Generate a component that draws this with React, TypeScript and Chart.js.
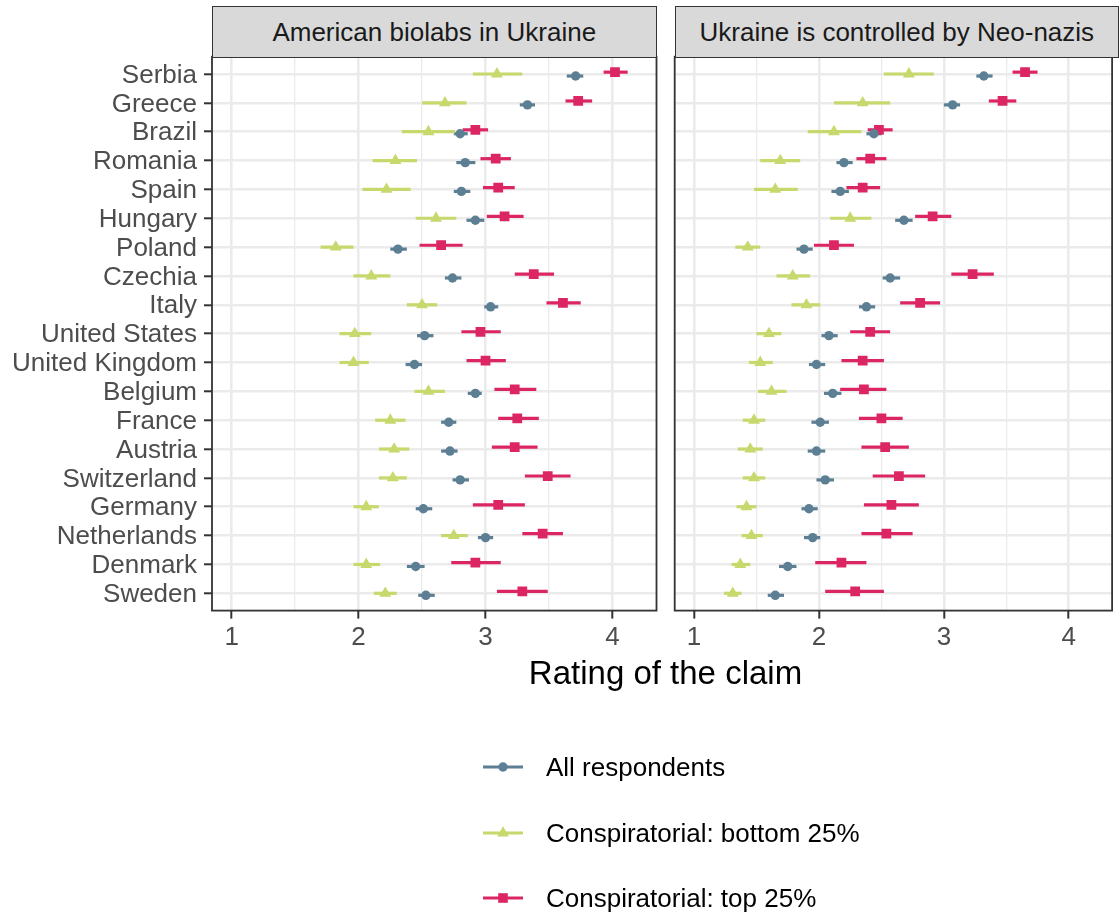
import React, { useEffect, useRef } from "react";
import { Chart, registerables } from "chart.js";

Chart.register(...registerables);

// ---- data -------------------------------------------------------------
const countries = [
  "Serbia", "Greece", "Brazil", "Romania", "Spain", "Hungary", "Poland",
  "Czechia", "Italy", "United States", "United Kingdom", "Belgium", "France",
  "Austria", "Switzerland", "Germany", "Netherlands", "Denmark", "Sweden",
];

const ratingTicks = [1, 1.5, 2, 2.5, 3, 3.5, 4];

const panelTitles = ["American biolabs in Ukraine", "Ukraine is controlled by Neo-nazis"];

const seriesNames = ["All respondents", "Conspiratorial: bottom 25%", "Conspiratorial: top 25%"];

// Claim 1: American biolabs in Ukraine
const biolabsAll = [3.71, 3.33, 2.80, 2.84, 2.81, 2.92, 2.31, 2.74, 3.04, 2.52, 2.44, 2.92, 2.71, 2.72, 2.80, 2.51, 3.00, 2.45, 2.53];
const biolabsAllLow = [3.64, 3.27, 2.75, 2.77, 2.75, 2.85, 2.25, 2.68, 2.99, 2.46, 2.37, 2.86, 2.65, 2.65, 2.74, 2.45, 2.94, 2.38, 2.47];
const biolabsAllHigh = [3.77, 3.39, 2.86, 2.92, 2.88, 2.99, 2.38, 2.81, 3.10, 2.59, 2.50, 2.97, 2.77, 2.78, 2.87, 2.58, 3.06, 2.52, 2.60];
const biolabsBottom = [3.09, 2.68, 2.55, 2.29, 2.22, 2.61, 1.82, 2.10, 2.50, 1.97, 1.96, 2.55, 2.25, 2.28, 2.27, 2.06, 2.75, 2.06, 2.21];
const biolabsBottomLow = [2.90, 2.50, 2.34, 2.11, 2.03, 2.45, 1.70, 1.96, 2.38, 1.85, 1.85, 2.44, 2.13, 2.16, 2.16, 1.96, 2.65, 1.96, 2.12];
const biolabsBottomHigh = [3.29, 2.85, 2.76, 2.46, 2.41, 2.77, 1.96, 2.25, 2.62, 2.10, 2.08, 2.68, 2.37, 2.40, 2.38, 2.16, 2.86, 2.17, 2.30];
const biolabsTop = [4.02, 3.73, 2.92, 3.08, 3.10, 3.15, 2.65, 3.38, 3.61, 2.96, 3.00, 3.23, 3.25, 3.23, 3.49, 3.10, 3.45, 2.92, 3.29];
const biolabsTopLow = [3.93, 3.63, 2.82, 2.96, 2.98, 3.01, 2.48, 3.23, 3.48, 2.81, 2.85, 3.07, 3.10, 3.05, 3.31, 2.90, 3.29, 2.73, 3.09];
const biolabsTopHigh = [4.12, 3.84, 3.02, 3.20, 3.23, 3.30, 2.82, 3.54, 3.75, 3.12, 3.16, 3.40, 3.42, 3.41, 3.67, 3.31, 3.61, 3.12, 3.49];

// Claim 2: Ukraine is controlled by Neo-nazis
const neonaziAll = [3.32, 3.07, 2.44, 2.20, 2.17, 2.68, 1.88, 2.57, 2.38, 2.08, 1.98, 2.11, 2.01, 1.98, 2.05, 1.92, 1.95, 1.75, 1.65];
const neonaziAllLow = [3.26, 3.00, 2.38, 2.14, 2.10, 2.61, 1.82, 2.51, 2.32, 2.02, 1.92, 2.04, 1.94, 1.91, 1.98, 1.86, 1.88, 1.68, 1.59];
const neonaziAllHigh = [3.39, 3.13, 2.50, 2.27, 2.24, 2.75, 1.95, 2.65, 2.45, 2.15, 2.05, 2.18, 2.08, 2.05, 2.12, 1.99, 2.01, 1.82, 1.72];
const neonaziBottom = [2.72, 2.35, 2.12, 1.69, 1.65, 2.25, 1.43, 1.79, 1.90, 1.60, 1.53, 1.62, 1.48, 1.45, 1.48, 1.42, 1.46, 1.37, 1.31];
const neonaziBottomLow = [2.52, 2.12, 1.91, 1.53, 1.48, 2.09, 1.33, 1.66, 1.78, 1.50, 1.44, 1.51, 1.39, 1.35, 1.39, 1.34, 1.38, 1.30, 1.24];
const neonaziBottomHigh = [2.92, 2.57, 2.34, 1.85, 1.83, 2.42, 1.53, 1.93, 2.01, 1.70, 1.63, 1.74, 1.57, 1.55, 1.57, 1.50, 1.55, 1.45, 1.38];
const neonaziTop = [3.65, 3.47, 2.48, 2.41, 2.35, 2.91, 2.12, 3.23, 2.81, 2.41, 2.35, 2.36, 2.50, 2.53, 2.64, 2.58, 2.54, 2.18, 2.29];
const neonaziTopLow = [3.55, 3.36, 2.39, 2.30, 2.22, 2.77, 1.96, 3.06, 2.65, 2.25, 2.18, 2.17, 2.32, 2.34, 2.43, 2.36, 2.34, 1.97, 2.05];
const neonaziTopHigh = [3.75, 3.58, 2.59, 2.54, 2.49, 3.06, 2.28, 3.40, 2.97, 2.57, 2.52, 2.54, 2.67, 2.72, 2.85, 2.80, 2.75, 2.38, 2.52];

// ---- styling ----------------------------------------------------------
const W = 1119;
const H = 920;
const FONT = "'Liberation Sans', Arial, Helvetica, sans-serif";
const COL_ALL = "#5D7F94";
const COL_BOTTOM = "#C7D86C";
const COL_TOP = "#DC2664";
const GRID = "#ebebeb";
const DARK = "#333333";

const X_MIN = 0.845;
const X_MAX = 4.347;
const PANEL_TOP = 56.7;
const PANEL_BOTTOM = 610.6;
const X_AXIS_H = 50;

type Series = {
  label: string;
  color: string;
  pointStyle: string;
  radius: number;
  shift: number;
  mean: number[];
  low: number[];
  high: number[];
};

const styleAll = { label: seriesNames[0], color: COL_ALL, pointStyle: "circle", radius: 4.7, shift: 0.07 };
const styleBottom = { label: seriesNames[1], color: COL_BOTTOM, pointStyle: "triangle", radius: 6.9, shift: 0 };
const styleTop = { label: seriesNames[2], color: COL_TOP, pointStyle: "rect", radius: 6.9, shift: -0.065 };

const biolabsSeries: Series[] = [
  { ...styleAll, mean: biolabsAll, low: biolabsAllLow, high: biolabsAllHigh },
  { ...styleBottom, mean: biolabsBottom, low: biolabsBottomLow, high: biolabsBottomHigh },
  { ...styleTop, mean: biolabsTop, low: biolabsTopLow, high: biolabsTopHigh },
];

const neonaziSeries: Series[] = [
  { ...styleAll, mean: neonaziAll, low: neonaziAllLow, high: neonaziAllHigh },
  { ...styleBottom, mean: neonaziBottom, low: neonaziBottomLow, high: neonaziBottomHigh },
  { ...styleTop, mean: neonaziTop, low: neonaziTopLow, high: neonaziTopHigh },
];

// horizontal interval lines behind the point estimates
const intervalPlugin = {
  id: "intervals",
  beforeDatasetsDraw(chart: any) {
    const { ctx, scales } = chart;
    const xs = scales.x;
    const ys = scales.y;
    chart.data.datasets.forEach((ds: any) => {
      ctx.save();
      ctx.strokeStyle = ds.backgroundColor;
      ctx.lineWidth = 3.2;
      ctx.lineCap = "butt";
      ds.data.forEach((p: any, i: number) => {
        const py = ys.getPixelForValue(p.y);
        ctx.beginPath();
        ctx.moveTo(xs.getPixelForValue(ds.intervalLow[i]), py);
        ctx.lineTo(xs.getPixelForValue(ds.intervalHigh[i]), py);
        ctx.stroke();
      });
      ctx.restore();
    });
  },
};

// panel frame
const framePlugin = {
  id: "frame",
  afterDraw(chart: any) {
    const { ctx, chartArea } = chart;
    ctx.save();
    ctx.strokeStyle = DARK;
    ctx.lineWidth = 1.8;
    ctx.strokeRect(chartArea.left, chartArea.top, chartArea.right - chartArea.left, chartArea.bottom - chartArea.top);
    ctx.restore();
  },
};

function buildConfig(series: Series[], showLabels: boolean, yAxisWidth: number, rightPad: number): any {
  const datasets = series.map((s) => ({
    label: s.label,
    data: s.mean.map((v, i) => ({ x: v, y: i + s.shift })),
    intervalLow: s.low,
    intervalHigh: s.high,
    backgroundColor: s.color,
    borderColor: s.color,
    borderWidth: 0,
    pointStyle: s.pointStyle,
    pointRadius: s.radius,
    pointHoverRadius: s.radius,
  }));

  const isMajor = (v: number) => Number.isInteger(v);

  return {
    type: "scatter",
    data: { datasets },
    plugins: [intervalPlugin, framePlugin],
    options: {
      animation: false,
      responsive: false,
      maintainAspectRatio: false,
      devicePixelRatio: 1,
      events: [],
      layout: {
        padding: { left: 0, right: rightPad, top: PANEL_TOP, bottom: H - PANEL_BOTTOM - X_AXIS_H },
      },
      plugins: { legend: { display: false }, tooltip: { enabled: false }, title: { display: false } },
      scales: {
        x: {
          type: "linear",
          min: X_MIN,
          max: X_MAX,
          afterBuildTicks: (s: any) => {
            s.ticks = ratingTicks.map((v) => ({ value: v }));
          },
          afterFit: (s: any) => {
            s.height = X_AXIS_H;
          },
          ticks: {
            autoSkip: false,
            maxRotation: 0,
            padding: 4,
            color: "#4d4d4d",
            font: { family: FONT, size: 26 },
            callback: (v: number) => (isMajor(v) ? String(v) : ""),
          },
          grid: {
            color: GRID,
            lineWidth: (c: any) => (c.tick && isMajor(c.tick.value) ? 2.6 : 1.3),
            drawTicks: true,
            tickLength: 8,
            tickWidth: 2,
            tickColor: (c: any) => (c.tick && isMajor(c.tick.value) ? DARK : "rgba(0,0,0,0)"),
          },
          border: { display: false },
        },
        y: {
          type: "linear",
          reverse: true,
          min: -0.6,
          max: countries.length - 1 + 0.6,
          afterBuildTicks: (s: any) => {
            s.ticks = countries.map((_, i) => ({ value: i }));
          },
          afterFit: (s: any) => {
            s.width = yAxisWidth;
          },
          ticks: {
            display: showLabels,
            autoSkip: false,
            padding: 7,
            labelOffset: 1.5,
            color: "#4d4d4d",
            font: { family: FONT, size: 26 },
            callback: (v: number) => countries[v],
          },
          grid: {
            color: GRID,
            lineWidth: 2.6,
            drawTicks: showLabels,
            tickLength: 8,
            tickWidth: 2,
            tickColor: DARK,
          },
          border: { display: false },
        },
      },
    },
  };
}

function PanelChart({ series, showLabels, yAxisWidth, rightPad }: { series: Series[]; showLabels: boolean; yAxisWidth: number; rightPad: number }) {
  const ref = useRef<HTMLCanvasElement | null>(null);
  useEffect(() => {
    if (!ref.current) return;
    const chart = new Chart(ref.current, buildConfig(series, showLabels, yAxisWidth, rightPad));
    return () => chart.destroy();
  }, [series, showLabels, yAxisWidth, rightPad]);
  return (
    <canvas
      ref={ref}
      width={W}
      height={H}
      style={{ position: "absolute", left: 0, top: 0, width: W, height: H }}
    />
  );
}

function Strip({ left, right, text }: { left: number; right: number; text: string }) {
  return (
    <div
      style={{
        position: "absolute",
        left,
        top: 6,
        width: right - left,
        height: PANEL_TOP - 6 + 0.9,
        boxSizing: "border-box",
        background: "#d9d9d9",
        border: `1.8px solid ${DARK}`,
        display: "flex",
        alignItems: "center",
        justifyContent: "center",
        fontFamily: FONT,
        fontSize: 26,
        color: "#1a1a1a",
        lineHeight: 1,
        whiteSpace: "nowrap",
      }}
    >
      {text}
    </div>
  );
}

function LegendMarker({ shape, color }: { shape: string; color: string }) {
  return (
    <svg width={44} height={20} style={{ display: "block" }}>
      <line x1={2} y1={10} x2={42} y2={10} stroke={color} strokeWidth={3.2} />
      {shape === "circle" && <circle cx={22} cy={10} r={4.7} fill={color} />}
      {shape === "triangle" && <polygon points="22,3.2 27.9,13.4 16.1,13.4" fill={color} />}
      {shape === "rect" && <rect x={17.2} y={5.2} width={9.6} height={9.6} fill={color} />}
    </svg>
  );
}

export default function App() {
  const leftPanel = { left: 212, right: 656.5 };
  const rightPanel = { left: 674.7, right: W };
  const legendRows = [
    { ...styleAll, y: 767 },
    { ...styleBottom, y: 833 },
    { ...styleTop, y: 898 },
  ];
  return (
    <div style={{ position: "absolute", left: 0, top: 0, width: W, height: H, background: "#ffffff", overflow: "hidden" }}>
      <PanelChart series={biolabsSeries} showLabels={true} yAxisWidth={leftPanel.left} rightPad={W - leftPanel.right} />
      <PanelChart series={neonaziSeries} showLabels={false} yAxisWidth={rightPanel.left} rightPad={0} />
      <Strip left={leftPanel.left} right={leftPanel.right} text={panelTitles[0]} />
      <Strip left={rightPanel.left} right={rightPanel.right} text={panelTitles[1]} />
      <div
        style={{
          position: "absolute",
          left: leftPanel.left,
          width: W - leftPanel.left,
          top: 656,
          textAlign: "center",
          fontFamily: FONT,
          fontSize: 33,
          lineHeight: 1,
          color: "#000",
          whiteSpace: "nowrap",
        }}
      >
        Rating of the claim
      </div>
      {legendRows.map((r) => (
        <div
          key={r.label}
          style={{
            position: "absolute",
            left: 481,
            top: r.y - 15,
            height: 30,
            display: "flex",
            alignItems: "center",
            fontFamily: FONT,
            fontSize: 26,
            lineHeight: 1,
            color: "#000",
            whiteSpace: "nowrap",
          }}
        >
          <LegendMarker shape={r.pointStyle} color={r.color} />
          <span style={{ marginLeft: 21 }}>{r.label}</span>
        </div>
      ))}
    </div>
  );
}
